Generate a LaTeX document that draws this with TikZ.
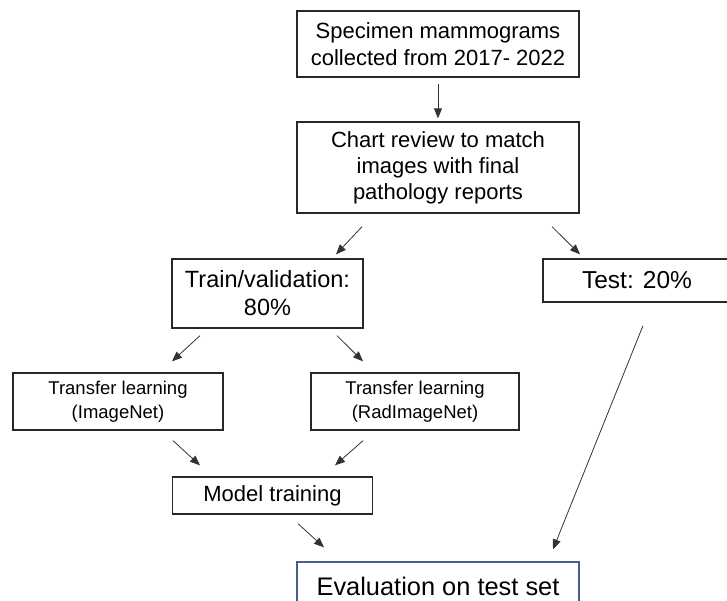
\documentclass[tikz,border=0pt]{standalone}
\usepackage{fontspec}
\setmainfont{Liberation Sans}
\usetikzlibrary{arrows.meta}

\definecolor{evalblue}{RGB}{70,96,140}
\definecolor{boxgray}{RGB}{40,40,40}

\tikzset{
  stepbox/.style={draw=boxgray, line width=1.3pt, inner sep=0pt, align=center},
  arr/.style={-{Triangle[length=10pt,width=8pt]}, line width=0.8pt, black!80}
}

\begin{document}
\begin{tikzpicture}[x=1pt, y=1pt]
  \useasboundingbox (0,0) rectangle (727,-600);
  \clip (0,0) rectangle (727,-600);
  % boxes
  \node[stepbox, minimum width=282, minimum height=66, font=\fontsize{22}{26.7}\selectfont]
    (spec) at (438,-44) {Specimen mammograms\\collected from 2017- 2022};
  \node[stepbox, minimum width=282, minimum height=91, font=\fontsize{22}{26}\selectfont]
    (chart) at (438,-167.5) {Chart review to match\\images with final\\pathology reports};
  \node[stepbox, minimum width=191, minimum height=69, font=\fontsize{23.5}{28}\selectfont]
    (train) at (267.5,-293.5) {Train/validation:\\80\%};
  \node[stepbox, minimum width=188, minimum height=43, font=\fontsize{24.5}{28}\selectfont]
    (test) at (637,-280.5) {Test: 20\%};
  \node[stepbox, minimum width=210, minimum height=57, font=\fontsize{18.5}{24}\selectfont]
    (tlimg) at (118,-401.5) {Transfer learning\\(ImageNet)};
  \node[stepbox, minimum width=208, minimum height=57, font=\fontsize{18.5}{24}\selectfont]
    (tlrad) at (415,-401.5) {Transfer learning\\(RadImageNet)};
  \node[stepbox, minimum width=200, minimum height=37, font=\fontsize{22}{26}\selectfont]
    (model) at (272.5,-495.5) {Model training};
  \node[stepbox, draw=evalblue, minimum width=282, minimum height=48, font=\fontsize{25.4}{30}\selectfont]
    (eval) at (438,-586) {Evaluation on test set};
  % arrows
  \draw[arr] ([shift={(0,-6)}]spec.south) -- ([shift={(0,3)}]chart.north);
  \draw[arr] ([shift={(-76,-13)}]chart.south) -- ([shift={(68.5,4)}]train.north);
  \draw[arr] ([shift={(114,-13)}]chart.south) -- ([shift={(-57,4)}]test.north);
  \draw[arr] ([shift={(-67.5,-7)}]train.south) -- ([shift={(54,11)}]tlimg.north);
  \draw[arr] ([shift={(69.5,-7)}]train.south) -- ([shift={(-52,11)}]tlrad.north);
  \draw[arr] ([shift={(55,-10)}]tlimg.south) -- ([shift={(-72.5,11)}]model.north);
  \draw[arr] ([shift={(-52,-10)}]tlrad.south) -- ([shift={(62.5,11)}]model.north);
  \draw[arr] ([shift={(25.5,-9)}]model.south) -- ([shift={(-114,14)}]eval.north);
  \draw[arr] ([shift={(6,-23)}]test.south) -- ([shift={(115,12)}]eval.north);
\end{tikzpicture}
\end{document}
